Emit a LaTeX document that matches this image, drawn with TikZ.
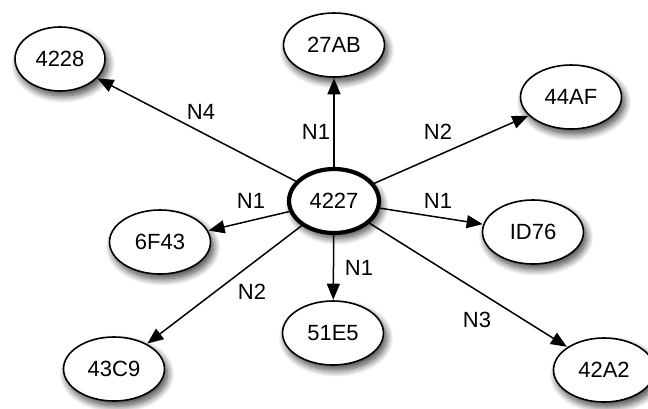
\documentclass[tikz,border=0pt]{standalone}
\usepackage{fontspec}
\setmainfont{Liberation Sans}
\usetikzlibrary{arrows.meta,shapes.geometric,shadows.blur}
\tikzset{
  nd/.style={ellipse, draw=black, line width=1.6pt, fill=white, inner sep=0pt,
    minimum width=101pt, minimum height=64pt,
    font=\fontsize{22}{25}\selectfont,
    blur shadow={shadow xshift=3pt, shadow yshift=-5pt, shadow blur steps=12, shadow blur radius=7pt, shadow opacity=75}},
  hub/.style={nd, line width=4.2pt, minimum width=90pt, minimum height=64pt},
  arr/.style={-{Triangle[length=16pt,width=13pt]}, line width=1.5pt, shorten >=0.5pt},
  lbl/.style={font=\fontsize{22}{25}\selectfont, inner sep=0pt}
}
\begin{document}
\begin{tikzpicture}[x=1pt,y=-1pt]
\useasboundingbox (0,0) rectangle (648,408);
\node[hub] (c) at (334,201) {4227};
\node[nd, minimum width=90pt] (n4228) at (60,59) {4228};
\node[nd] (n27AB) at (334,45) {27AB};
\node[nd] (n44AF) at (571,97) {44AF};
\node[nd] (nID76) at (533,232) {ID76};
\node[nd] (n6F43) at (160,242) {6F43};
\node[nd] (n43C9) at (114,369) {43C9};
\node[nd] (n51E5) at (333,333) {51E5};
\node[nd] (n42A2) at (604,370) {42A2};
\draw[arr] (c) -- (n4228);
\draw[arr] (c) -- (n27AB);
\draw[arr] (c) -- (n44AF);
\draw[arr] (c) -- (nID76);
\draw[arr] (c) -- (n6F43);
\draw[arr] (c) -- (n43C9);
\draw[arr] (c) -- (n51E5);
\draw[arr] (c) -- (n42A2);
\node[lbl] (l1) at (201,112) {N4};
\node[lbl] (l2) at (316,132) {N1};
\node[lbl] (l3) at (438,132) {N2};
\node[lbl] (l4) at (438,201) {N1};
\node[lbl] (l5) at (251,201) {N1};
\node[lbl] (l6) at (252,292) {N2};
\node[lbl] (l7) at (359,268) {N1};
\node[lbl] (l8) at (477,320) {N3};
\end{tikzpicture}
\end{document}
